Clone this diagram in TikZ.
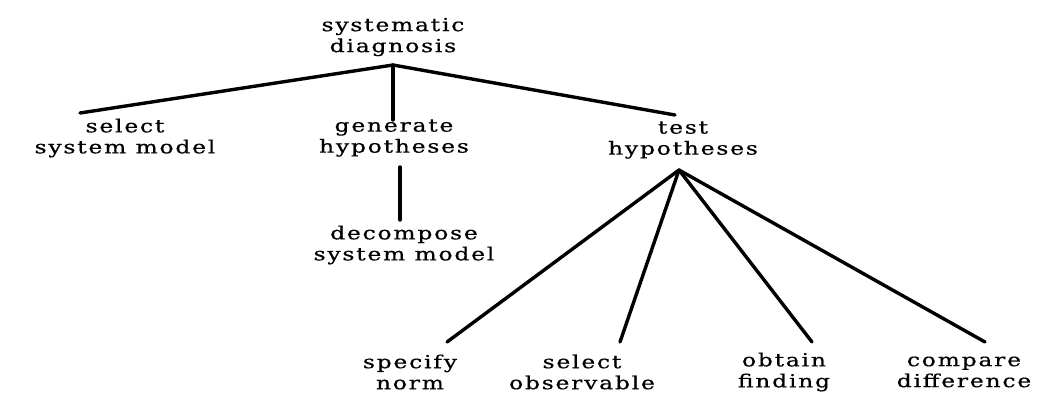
\documentclass[tikz,border=0pt]{standalone}
\usepackage{fontspec}
\setmainfont{DejaVu Serif}[FakeStretch=1.3,LetterSpace=10,FakeBold=0.6]
\begin{document}
\begin{tikzpicture}[x=1pt,y=-1pt,
  lbl/.style={align=center,inner sep=0pt,font=\fontsize{18}{21}\selectfont},
  edge/.style={line width=3.4pt,line cap=round}]
\useasboundingbox (0,0) rectangle (1041,394);
% nodes
\node[lbl] (sd) at (393,37) {systematic\\diagnosis};
\node[lbl] (ssm) at (125,138) {select\\system model};
\node[lbl] (gh) at (394,138) {generate\\hypotheses};
\node[lbl] (th) at (683,140) {test\\hypotheses};
\node[lbl] (dsm) at (404,245) {decompose\\system model};
\node[lbl] (sn) at (410,372) {specify\\norm};
\node[lbl] (so) at (582,372) {select\\observable};
\node[lbl] (of) at (784,372) {obtain\\finding};
\node[lbl] (cd) at (964,372) {compare\\difference};
% connector ends
\coordinate (sdB) at (393,65);
\coordinate (ssmT) at (80,113);
\coordinate (ghT) at (393,120);
\coordinate (thT) at (675,115);
\coordinate (ghB) at (400,167);
\coordinate (dsmT) at (400,220);
\coordinate (thB) at (679,170);
\coordinate (snT) at (447,342);
\coordinate (soT) at (620,342);
\coordinate (ofT) at (812,342);
\coordinate (cdT) at (985,342);
% connectors
\draw[edge] (ssmT) -- (sdB) -- (thT);
\draw[edge] (sdB) -- (ghT);
\draw[edge] (ghB) -- (dsmT);
\draw[edge] (thB) -- (snT);
\draw[edge] (thB) -- (soT);
\draw[edge] (thB) -- (ofT);
\draw[edge] (thB) -- (cdT);
\end{tikzpicture}
\end{document}
